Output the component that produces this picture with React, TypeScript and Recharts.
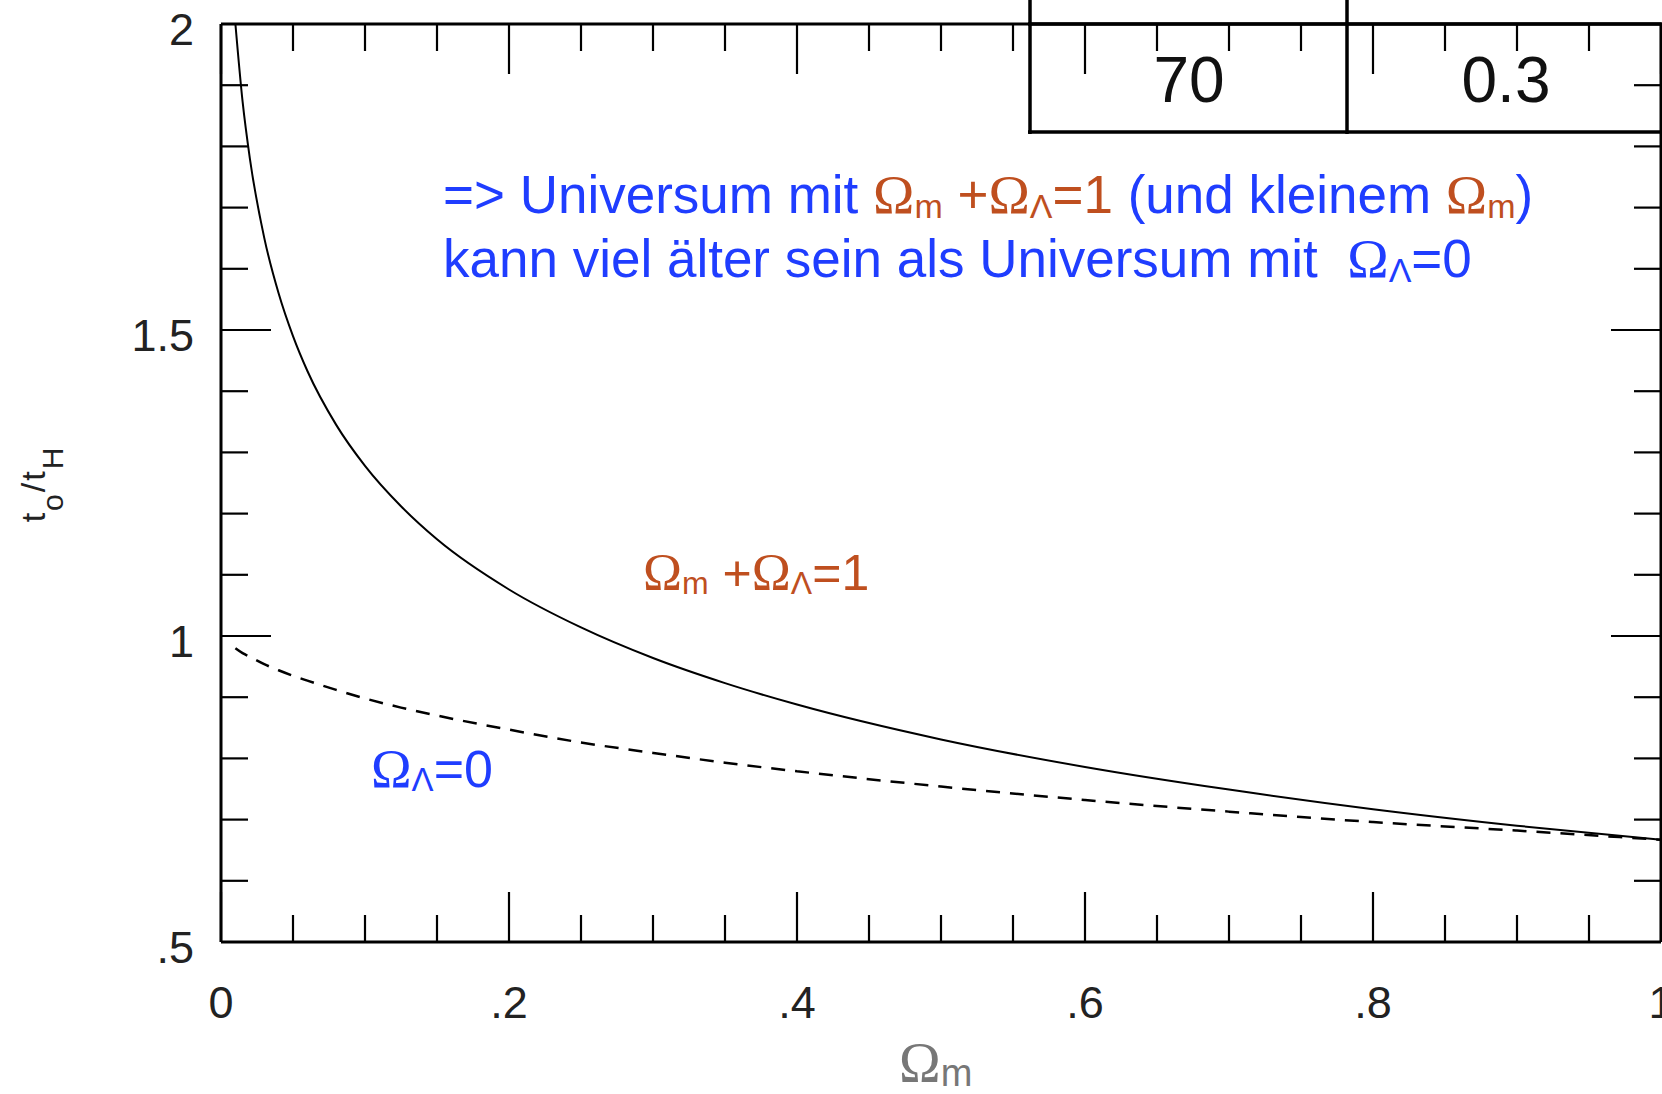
import { LineChart, Line, XAxis, YAxis } from 'recharts';

// Omega_m sample points and the two age curves t0/tH
const omegaM = [0.01, 0.015, 0.02, 0.03, 0.04, 0.05, 0.06, 0.08, 0.1, 0.125, 0.15, 0.2, 0.25, 0.3, 0.35, 0.4, 0.5, 0.6, 0.7, 0.8, 0.9, 1.0];
const flatAge = [2.0, 1.873, 1.781, 1.651, 1.56, 1.49, 1.433, 1.345, 1.278, 1.212, 1.158, 1.076, 1.014, 0.964, 0.923, 0.888, 0.831, 0.786, 0.749, 0.717, 0.69, 0.667];
const openAge = [0.98, 0.972, 0.966, 0.954, 0.944, 0.935, 0.927, 0.912, 0.898, 0.883, 0.87, 0.847, 0.826, 0.809, 0.793, 0.779, 0.754, 0.732, 0.713, 0.696, 0.682, 0.667];

const xTicks = [0, 0.05, 0.1, 0.15, 0.2, 0.25, 0.3, 0.35, 0.4, 0.45, 0.5, 0.55, 0.6, 0.65, 0.7, 0.75, 0.8, 0.85, 0.9, 0.95, 1];
const xMajor = [0, 0.2, 0.4, 0.6, 0.8, 1];
const xLabels = ['0', '.2', '.4', '.6', '.8', '1'];
const yTicks = [0.5, 0.6, 0.7, 0.8, 0.9, 1, 1.1, 1.2, 1.3, 1.4, 1.5, 1.6, 1.7, 1.8, 1.9, 2];
const yMajor = [0.5, 1, 1.5, 2];
const yLabels = ['.5', '1', '1.5', '2'];
const tableValues = ['70', '0.3'];

const data = omegaM.map((om, i) => ({ om, flat: flatAge[i], open: openAge[i] }));

const BLUE = '#1f3dff';
const ORANGE = '#bf4f1f';
const SANS = '"Liberation Sans", Arial, sans-serif';
const SERIF = '"Liberation Serif", "Times New Roman", serif';
const MAJOR = 50;
const MINOR = 27;

const findMajor = (list: number[], v: number) => list.findIndex((m) => Math.abs(m - v) < 1e-6);

const BottomTick = ({ x, y, payload }: any) => {
  const i = findMajor(xMajor, payload.value);
  return (
    <g>
      <line x1={x} y1={y} x2={x} y2={y - (i >= 0 ? MAJOR : MINOR)} stroke="#000" strokeWidth={2.2} />
      {i >= 0 && (
        <text x={x} y={y + 76} textAnchor="middle" fontSize={45} fontFamily={SANS} fill="#222">
          {xLabels[i]}
        </text>
      )}
    </g>
  );
};

const TopTick = ({ x, y, payload }: any) => {
  const i = findMajor(xMajor, payload.value);
  return <line x1={x} y1={y} x2={x} y2={y + (i >= 0 ? MAJOR : MINOR)} stroke="#000" strokeWidth={2.2} />;
};

const LeftTick = ({ x, y, payload }: any) => {
  const i = findMajor(yMajor, payload.value);
  return (
    <g>
      <line x1={x} y1={y} x2={x + (i >= 0 ? MAJOR : MINOR)} y2={y} stroke="#000" strokeWidth={2.2} />
      {i >= 0 && (
        <text x={x - 27} y={y + 21} textAnchor="end" fontSize={45} fontFamily={SANS} fill="#222">
          {yLabels[i]}
        </text>
      )}
    </g>
  );
};

const RightTick = ({ x, y, payload }: any) => {
  const i = findMajor(yMajor, payload.value);
  return <line x1={x} y1={y} x2={x - (i >= 0 ? MAJOR : MINOR)} y2={y} stroke="#000" strokeWidth={2.2} />;
};

type Seg = { t: string; c: string; serif?: boolean; sub?: boolean };

const headLine1: Seg[] = [
  { t: '=> Universum mit ', c: BLUE },
  { t: 'Ω', c: ORANGE, serif: true },
  { t: 'm', c: ORANGE, sub: true },
  { t: ' +', c: ORANGE },
  { t: 'Ω', c: ORANGE, serif: true },
  { t: 'Λ', c: ORANGE, sub: true },
  { t: '=1', c: ORANGE },
  { t: ' (und kleinem ', c: BLUE },
  { t: 'Ω', c: ORANGE, serif: true },
  { t: 'm', c: ORANGE, sub: true },
  { t: ')', c: BLUE },
];

const headLine2: Seg[] = [
  { t: 'kann viel älter sein als Universum mit  ', c: BLUE },
  { t: 'Ω', c: BLUE, serif: true },
  { t: 'Λ', c: BLUE, sub: true },
  { t: '=0', c: BLUE },
];

const flatLabel: Seg[] = [
  { t: 'Ω', c: ORANGE, serif: true },
  { t: 'm', c: ORANGE, sub: true },
  { t: ' +', c: ORANGE },
  { t: 'Ω', c: ORANGE, serif: true },
  { t: 'Λ', c: ORANGE, sub: true },
  { t: '=1', c: ORANGE },
];

const openLabel: Seg[] = [
  { t: 'Ω', c: BLUE, serif: true },
  { t: 'Λ', c: BLUE, sub: true },
  { t: '=0', c: BLUE },
];

const RichText = ({ x, y, size, subSize, shift, segs }: { x: number; y: number; size: number; subSize: number; shift: number; segs: Seg[] }) => {
  let cur = 0;
  return (
    <text x={x} y={y} fontSize={size} fontFamily={SANS} style={{ whiteSpace: 'pre' }}>
      {segs.map((s, i) => {
        const target = s.sub ? shift : 0;
        const dy = target - cur;
        cur = target;
        return (
          <tspan
            key={i}
            dy={dy || undefined}
            fill={s.c}
            fontFamily={s.serif ? SERIF : undefined}
            fontSize={s.sub ? subSize : s.serif ? size * 1.05 : undefined}
          >
            {s.t}
          </tspan>
        );
      })}
    </text>
  );
};

const axisStroke = { stroke: '#000', strokeWidth: 3 };

export default function App() {
  return (
    <div style={{ position: 'absolute', left: 0, top: 0, width: 1662, height: 1094, background: '#fff', overflow: 'hidden' }}>
      <LineChart width={1662} height={1094} data={data} margin={{ top: 0, right: 0, bottom: 0, left: 0 }}>
        <XAxis
          xAxisId="bottom"
          dataKey="om"
          type="number"
          domain={[0, 1]}
          ticks={xTicks}
          interval={0}
          height={152}
          tickSize={0}
          tickMargin={0}
          tickLine={false}
          axisLine={axisStroke}
          tick={BottomTick}
        />
        <XAxis
          xAxisId="top"
          orientation="top"
          dataKey="om"
          type="number"
          domain={[0, 1]}
          ticks={xTicks}
          interval={0}
          height={24}
          tickSize={0}
          tickMargin={0}
          tickLine={false}
          axisLine={axisStroke}
          tick={TopTick}
        />
        <YAxis
          yAxisId="left"
          type="number"
          domain={[0.5, 2]}
          allowDataOverflow
          ticks={yTicks}
          interval={0}
          width={221}
          tickSize={0}
          tickMargin={0}
          tickLine={false}
          axisLine={axisStroke}
          tick={LeftTick}
        />
        <YAxis
          yAxisId="right"
          orientation="right"
          type="number"
          domain={[0.5, 2]}
          allowDataOverflow
          ticks={yTicks}
          interval={0}
          width={1}
          tickSize={0}
          tickMargin={0}
          tickLine={false}
          axisLine={axisStroke}
          tick={RightTick}
        />
        {/* flat universe, Omega_m + Omega_Lambda = 1 */}
        <Line
          xAxisId="bottom"
          yAxisId="left"
          dataKey="flat"
          type="monotone"
          stroke="#000"
          strokeWidth={2}
          dot={false}
          isAnimationActive={false}
        />
        {/* open universe, Omega_Lambda = 0 (drawn on the mirrored axes, same scales) */}
        <Line
          xAxisId="top"
          yAxisId="right"
          dataKey="open"
          type="monotone"
          stroke="#000"
          strokeWidth={2.5}
          strokeDasharray="14 10"
          dot={false}
          isAnimationActive={false}
        />
      </LineChart>

      <svg width={1662} height={1094} style={{ position: 'absolute', left: 0, top: 0, pointerEvents: 'none' }}>
        {/* parameter table, top right */}
        <g stroke="#000" strokeWidth={3.5}>
          <line x1={1030} y1={0} x2={1030} y2={134} />
          <line x1={1347} y1={0} x2={1347} y2={134} />
          <line x1={1028} y1={132} x2={1662} y2={132} />
          <line x1={1028} y1={24} x2={1662} y2={24} />
        </g>
        <text x={1189} y={102} textAnchor="middle" fontSize={64} fontFamily={SANS} fill="#111">
          {tableValues[0]}
        </text>
        <text x={1506} y={102} textAnchor="middle" fontSize={64} fontFamily={SANS} fill="#111">
          {tableValues[1]}
        </text>

        <RichText x={443} y={213} size={53} subSize={34} shift={5} segs={headLine1} />
        <RichText x={443} y={277} size={53} subSize={34} shift={5} segs={headLine2} />
        <RichText x={643} y={590} size={50} subSize={32} shift={4} segs={flatLabel} />
        <RichText x={371} y={787} size={52} subSize={33} shift={4} segs={openLabel} />

        {/* axis titles */}
        <text x={899} y={1082} fill="#777" fontSize={56} fontFamily={SERIF} style={{ whiteSpace: 'pre' }}>
          Ω
          <tspan dy={4} fontSize={38} fontFamily={SANS}>m</tspan>
        </text>
        <text
          x={45}
          y={484}
          transform="rotate(-90 45 484)"
          textAnchor="middle"
          fill="#222"
          fontSize={34}
          fontFamily={SANS}
          letterSpacing={2}
        >
          t<tspan dy={18} fontSize={30}>o</tspan>
          <tspan dy={-18}>/t</tspan>
          <tspan dy={18} fontSize={30}>H</tspan>
        </text>
      </svg>
    </div>
  );
}
